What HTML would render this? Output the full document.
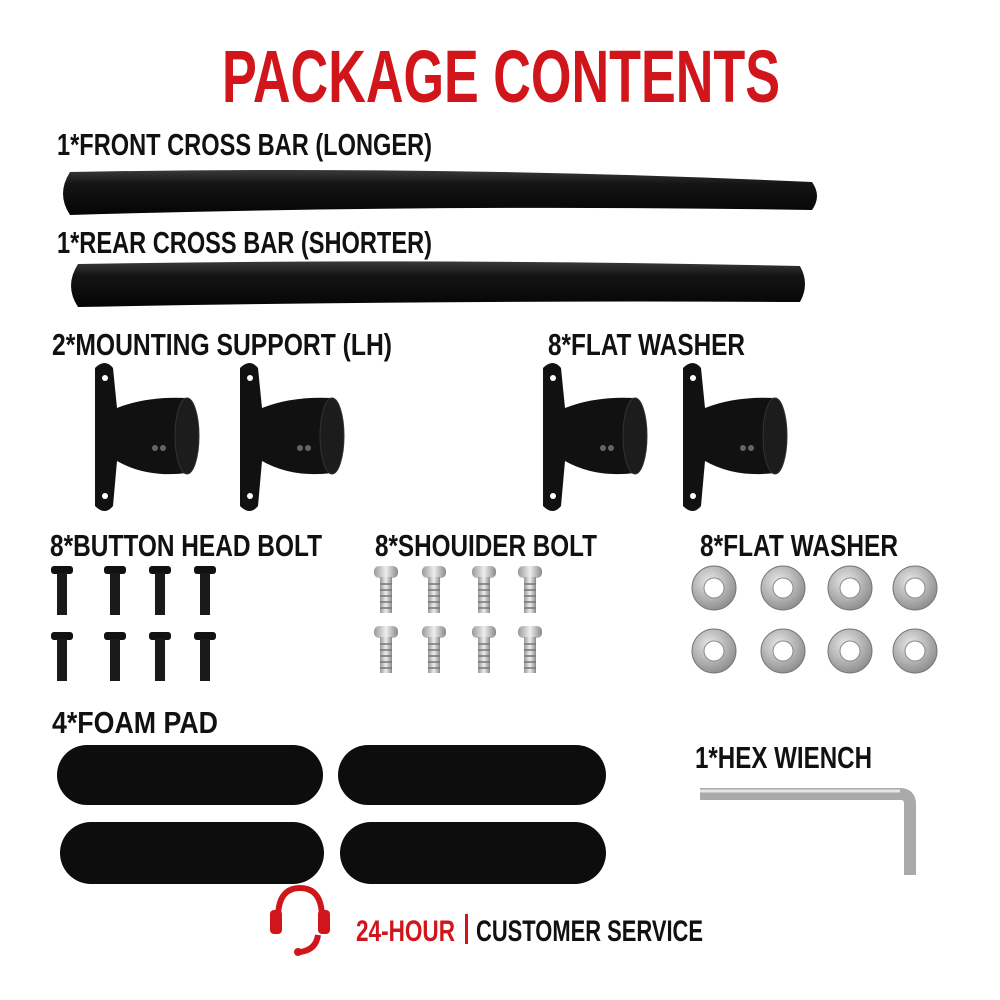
<!DOCTYPE html>
<html><head><style>
html,body{margin:0;padding:0;background:#fff;}
svg{display:block}
text{font-family:"Liberation Sans",sans-serif;font-weight:bold;}
</style></head><body>
<svg width="1000" height="1000" viewBox="0 0 1000 1000" xmlns="http://www.w3.org/2000/svg">
<defs>
<linearGradient id="bar" x1="0" y1="0" x2="0" y2="1"><stop offset="0" stop-color="#3a3a3a"/><stop offset="0.3" stop-color="#151515"/><stop offset="1" stop-color="#050505"/></linearGradient>
<radialGradient id="wash" cx="0.4" cy="0.35" r="0.7"><stop offset="0" stop-color="#e8e8e8"/><stop offset="1" stop-color="#8a8a8a"/></radialGradient>
<linearGradient id="silver" x1="0" y1="0" x2="1" y2="0"><stop offset="0" stop-color="#999"/><stop offset="0.5" stop-color="#eee"/><stop offset="1" stop-color="#888"/></linearGradient>
<g id="mount">
<path d="M0,0 q10,-10 18,0 l4,40 q30,-12 70,-10 l0,75 q-40,5 -70,-12 l-4,45 q-8,10 -18,0 z" fill="#111"/>
<ellipse cx="92" cy="68" rx="12" ry="38" fill="#1c1c1c" stroke="#333"/>
<circle cx="10" cy="10" r="3" fill="#fff"/><circle cx="10" cy="128" r="3" fill="#fff"/>
<circle cx="60" cy="80" r="3" fill="#666"/><circle cx="68" cy="80" r="3" fill="#666"/>
</g>
<g id="bbolt">
<rect x="-11" y="0" width="22" height="8" rx="3" fill="#111"/>
<rect x="-5" y="7" width="10" height="42" fill="#1a1a1a"/>
</g>
<g id="sbolt">
<rect x="-12" y="0" width="24" height="12" rx="5" fill="url(#silver)"/>
<rect x="-6" y="11" width="12" height="36" fill="url(#silver)"/>
<path d="M-6,18 h12 M-6,24 h12 M-6,30 h12 M-6,36 h12 M-6,42 h12" stroke="#777" stroke-width="1.5"/>
</g>
<g id="wsh"><circle r="22" fill="url(#wash)" stroke="#777"/><circle r="10" fill="#fff" stroke="#888"/></g>
</defs>
<text x="222" y="102" font-size="74" fill="#d0161b" textLength="558" lengthAdjust="spacingAndGlyphs">PACKAGE CONTENTS</text>
<g font-size="31" fill="#111">
<text x="57" y="155" textLength="375" lengthAdjust="spacingAndGlyphs">1*FRONT CROSS BAR (LONGER)</text>
<text x="57" y="253" textLength="375" lengthAdjust="spacingAndGlyphs">1*REAR CROSS BAR (SHORTER)</text>
<text x="52" y="355" textLength="340" lengthAdjust="spacingAndGlyphs">2*MOUNTING SUPPORT (LH)</text>
<text x="548" y="355" textLength="197" lengthAdjust="spacingAndGlyphs">8*FLAT WASHER</text>
<text x="50" y="556" textLength="272" lengthAdjust="spacingAndGlyphs">8*BUTTON HEAD BOLT</text>
<text x="375" y="556" textLength="222" lengthAdjust="spacingAndGlyphs">8*SHOUIDER BOLT</text>
<text x="700" y="556" textLength="198" lengthAdjust="spacingAndGlyphs">8*FLAT WASHER</text>
<text x="52" y="733" textLength="166" lengthAdjust="spacingAndGlyphs">4*FOAM PAD</text>
<text x="695" y="768" textLength="177" lengthAdjust="spacingAndGlyphs">1*HEX WIENCH</text>
</g>
<path d="M70,172 Q440,165 812,182 Q822,196 812,210 Q440,204 70,215 Q56,194 70,172 z" fill="url(#bar)"/>
<path d="M78,264 Q440,258 800,266 Q810,284 800,302 Q440,300 78,307 Q64,286 78,264 z" fill="url(#bar)"/>
<use href="#mount" x="95" y="368"/>
<use href="#mount" x="240" y="368"/>
<use href="#mount" x="543" y="368"/>
<use href="#mount" x="683" y="368"/>
<g>
<use href="#bbolt" x="62" y="566"/><use href="#bbolt" x="115" y="566"/><use href="#bbolt" x="160" y="566"/><use href="#bbolt" x="205" y="566"/>
<use href="#bbolt" x="62" y="632"/><use href="#bbolt" x="115" y="632"/><use href="#bbolt" x="160" y="632"/><use href="#bbolt" x="205" y="632"/>
<use href="#sbolt" x="386" y="566"/><use href="#sbolt" x="434" y="566"/><use href="#sbolt" x="484" y="566"/><use href="#sbolt" x="530" y="566"/>
<use href="#sbolt" x="386" y="626"/><use href="#sbolt" x="434" y="626"/><use href="#sbolt" x="484" y="626"/><use href="#sbolt" x="530" y="626"/>
<use href="#wsh" x="714" y="588"/><use href="#wsh" x="783" y="588"/><use href="#wsh" x="850" y="588"/><use href="#wsh" x="915" y="588"/>
<use href="#wsh" x="714" y="651"/><use href="#wsh" x="783" y="651"/><use href="#wsh" x="850" y="651"/><use href="#wsh" x="915" y="651"/>
</g>
<g fill="#0d0d0d">
<rect x="57" y="745" width="266" height="60" rx="30"/>
<rect x="338" y="745" width="268" height="60" rx="30"/>
<rect x="60" y="822" width="264" height="62" rx="31"/>
<rect x="340" y="822" width="266" height="62" rx="31"/>
</g>
<path d="M700,794 H900 Q910,794 910,804 V875" fill="none" stroke="#aaa" stroke-width="12"/>
<path d="M700,791 H900" stroke="#e5e5e5" stroke-width="3"/>
<g fill="none" stroke="#d0161b" stroke-width="6">
<path d="M278,918 Q278,888 300,888 Q322,888 322,918"/>
<path d="M318,935 Q316,950 300,952"/>
</g>
<rect x="270" y="910" width="12" height="24" rx="4" fill="#d0161b"/>
<rect x="318" y="910" width="12" height="24" rx="4" fill="#d0161b"/>
<circle cx="298" cy="952" r="4" fill="#d0161b"/>
<text x="356" y="941" font-size="30" fill="#d0161b" textLength="99" lengthAdjust="spacingAndGlyphs">24-HOUR</text>
<rect x="465" y="914" width="3" height="30" fill="#d0161b"/>
<text x="476" y="941" font-size="30" fill="#111" textLength="227" lengthAdjust="spacingAndGlyphs">CUSTOMER SERVICE</text>
</svg>
</body></html>
